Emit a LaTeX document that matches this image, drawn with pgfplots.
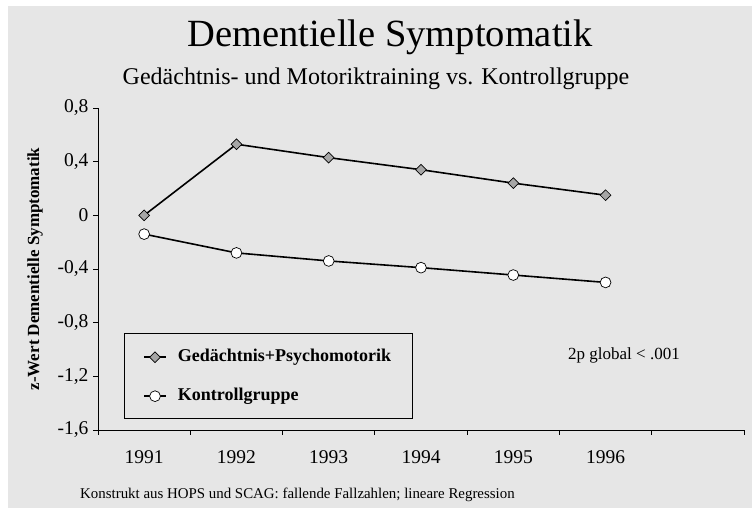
\documentclass[border=0pt]{standalone}
\usepackage{pgfplots}
\pgfplotsset{compat=1.18}
\usepackage{fontspec}
\setmainfont{Liberation Serif}
\definecolor{bg}{HTML}{E6E6E6}
\definecolor{dia}{HTML}{A6A6A6}
\begin{document}
\begin{tikzpicture}[x=1pt,y=1pt]
\useasboundingbox (0,0) rectangle (752,508);
\fill[white] (0,0) rectangle (752,508);
\fill[bg] (8,0) rectangle (752,502);
\begin{axis}[at={(98pt,78pt)}, anchor=south west, scale only axis,
  width=646pt, height=322pt,
  xmin=0.5, xmax=7.5, ymin=-1.6, ymax=0.8,
  axis lines*=left, axis line style={black, line width=0.9pt, -},
  xtick={1,2,3,4,5,6}, xticklabels={1991,1992,1993,1994,1995,1996},
  major x tick style={draw=none},
  minor xtick={0.5,1.5,2.5,3.5,4.5,5.5,6.5,7.5},
  ytick={-1.6,-1.2,-0.8,-0.4,0,0.4,0.8},
  yticklabels={{-1,6},{-1,2},{-0,8},{-0,4},{0},{0,4},{0,8}},
  tick align=outside, major tick length=5pt, minor tick length=5pt,
  tick style={black, line width=0.8pt},
  ticklabel style={font=\fontsize{19.5}{21}\selectfont},
  xticklabel style={anchor=base, yshift=-29pt},
  yticklabel style={xshift=-1pt},
  clip=false,
  legend style={at={(0.0697,0.2516)}, anchor=north west, draw=none, fill=none,
    inner sep=0pt, row sep=23pt, column sep=11pt,
    font=\bfseries\fontsize{18}{20}\selectfont,
    nodes={inner sep=0pt, text height=12pt, text depth=4pt}},
  legend cell align=left,
  legend image code/.code={\draw[mark repeat=2,mark phase=2,#1] plot coordinates {(0pt,0pt)(11pt,0pt)(22pt,0pt)};},
]
\addplot[black, line width=1.6pt, mark=square*, mark size=3.8pt,
  mark options={rotate=45, fill=dia, draw=black, line width=0.7pt}]
  coordinates {(1,0)(2,0.53)(3,0.43)(4,0.34)(5,0.24)(6,0.15)};
\addlegendentry{Gedächtnis+Psychomotorik}
\addplot[black, line width=1.6pt, mark=*, mark size=5.4pt,
  mark options={fill=white, draw=black, line width=0.7pt}]
  coordinates {(1,-0.14)(2,-0.28)(3,-0.34)(4,-0.39)(5,-0.445)(6,-0.50)};
\addlegendentry{Kontrollgruppe}
\end{axis}
\draw[black, line width=0.9pt] (124,90) rectangle (412,175);
\node[anchor=base, font=\fontsize{38.5}{40}\selectfont] at (390,461) {Dementielle Symptomatik};
\node[anchor=base, font=\fontsize{24}{26}\selectfont] at (376,423) {Gedächtnis- und Motoriktraining vs. Kontrollgruppe};
\node[anchor=base west, inner sep=0pt, font=\fontsize{14.9}{16}\selectfont] at (80,9) {Konstrukt aus HOPS und SCAG: fallende Fallzahlen; lineare Regression};
\node[anchor=center, rotate=90, font=\bfseries\fontsize{17}{18}\selectfont] at (35,239) {z-Wert Dementielle Symptomatik};
\node[anchor=center, font=\fontsize{17}{18}\selectfont] at (624,153) {2p global < .001};
\end{tikzpicture}
\end{document}
